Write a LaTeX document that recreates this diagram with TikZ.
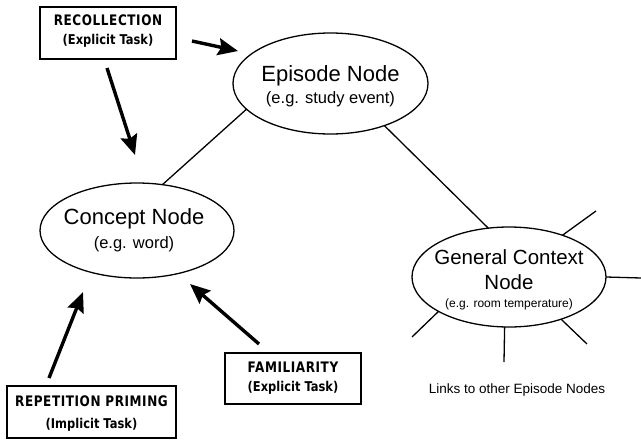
\documentclass[tikz,border=0pt]{standalone}
\usepackage{fontspec}
\setmainfont{Liberation Sans}
\newfontfamily\boxfont{DejaVu Sans}[FakeStretch=0.85]
\newfontfamily\boxcapfont{DejaVu Sans}[FakeStretch=0.83,LetterSpace=4]
\usetikzlibrary{arrows.meta,shapes.geometric}

\begin{document}
\begin{tikzpicture}[x=1pt,y=-1pt,
  oval/.style={ellipse,draw,line width=1.3pt,inner sep=0pt,outer sep=0pt},
  taskbox/.style={draw,line width=1.8pt,inner sep=0pt,outer sep=0pt},
  link/.style={line width=1.3pt},
  push/.style={line width=3.4pt,-{Stealth[length=20pt,width=17pt,inset=3pt]}},
  txt/.style={anchor=base,inner sep=0pt,outer sep=0pt},
  headtxt/.style={txt,font=\fontsize{22}{26}\selectfont},
  subtxt/.style={txt,font=\fontsize{16.5}{20}\selectfont},
  gentxt/.style={txt,font=\fontsize{20.5}{24}\selectfont},
  tinytxt/.style={txt,font=\fontsize{12}{14}\selectfont},
  notetxt/.style={txt,font=\fontsize{13.5}{16}\selectfont},
  tasktitle/.style={txt,font=\boxcapfont\bfseries\fontsize{14.5}{17}\selectfont},
  tasksub/.style={txt,font=\boxfont\bfseries\fontsize{13.5}{16}\selectfont}
]
\fill[white] (0,0) rectangle (641,440);
\useasboundingbox (0,0) rectangle (641,440);

% memory nodes
\node[oval,minimum width=195pt,minimum height=101pt] (epi) at (330.5,83.5) {};
\node[oval,minimum width=194pt,minimum height=95pt]  (con) at (137,230.5) {};
\node[oval,minimum width=194pt,minimum height=100pt] (gen) at (509,277) {};

\node[headtxt] (epiA) at (330.5,81.5) {Episode Node};
\node[subtxt]  (epiB) at (330.5,103)  {(e.g. study event)};
\node[headtxt] (conA) at (134,224)    {Concept Node};
\node[subtxt]  (conB) at (134,248)    {(e.g. word)};
\node[gentxt]  (genA) at (509,264)    {General Context};
\node[gentxt]  (genB) at (509,289)    {Node};
\node[tinytxt] (genC) at (509,307)    {(e.g. room temperature)};
\node[notetxt] (note) at (517,393)    {Links to other Episode Nodes};

% task boxes
\node[taskbox,minimum width=136pt,minimum height=52pt] (rec) at (108,33) {};
\node[taskbox,minimum width=169pt,minimum height=52pt] (rep) at (91.5,412) {};
\node[taskbox,minimum width=136pt,minimum height=51pt] (fam) at (293,378.5) {};

\node[tasktitle] (recA) at (108,25.7)   {RECOLLECTION};
\node[tasksub]   (recB) at (108,44)     {(Explicit Task)};
\node[tasktitle] (repA) at (91.5,406.7) {REPETITION PRIMING};
\node[tasksub]   (repB) at (91.5,428)   {(Implicit Task)};
\node[tasktitle] (famA) at (293,372)    {FAMILIARITY};
\node[tasksub]   (famB) at (293,391.5)  {(Explicit Task)};

% links between memory nodes
\draw[link] (epi.197) -- (con.61);
\draw[link] (epi.322.6) -- (gen.113.7);

% links leaving the context node
\coordinate (s1) at (596,211);
\coordinate (s2) at (641,278);
\coordinate (s3) at (587,344);
\coordinate (s4) at (504,362);
\coordinate (s5) at (412,337);
\draw[link] (gen.38.5) -- (s1);
\draw[link] (gen.0) -- (s2);
\draw[link] (gen.-39) -- (s3);
\draw[link] (gen.265) -- (s4);
\draw[link] (gen.206) -- (s5);

% task arrows
\coordinate (a1s) at (192,41);  \coordinate (a1e) at (238,51);
\coordinate (a2s) at (107,68);  \coordinate (a2e) at (135,155);
\coordinate (a3s) at (49,378);  \coordinate (a3e) at (83,292);
\coordinate (a4s) at (259,344); \coordinate (a4e) at (190,284);
\draw[push] (a1s) -- (a1e);
\draw[push] (a2s) -- (a2e);
\draw[push] (a3s) -- (a3e);
\draw[push] (a4s) -- (a4e);
\end{tikzpicture}
\end{document}
